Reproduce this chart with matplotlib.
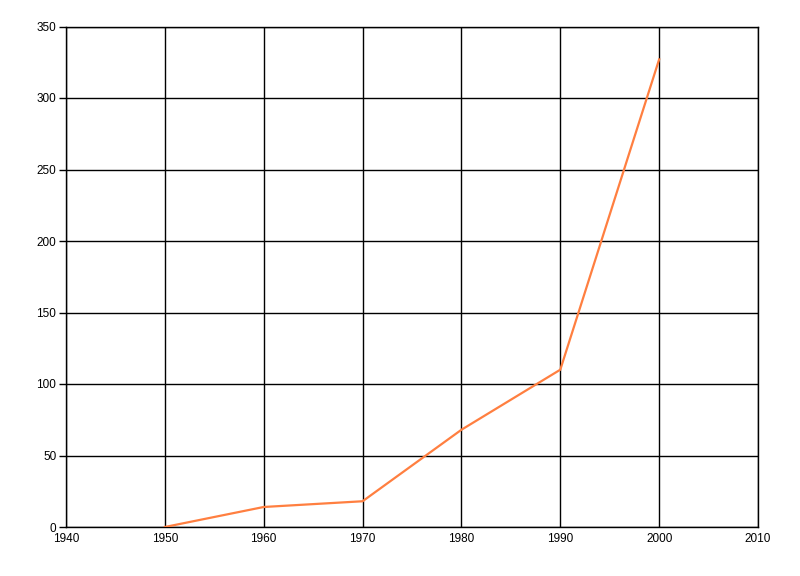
import matplotlib
matplotlib.use('Agg')
import matplotlib.pyplot as plt

years = [1950, 1960, 1970, 1980, 1990, 2000]
values = [0, 14, 18, 68, 110, 327]

x_ticks = list(range(1940, 2011, 10))
y_ticks = list(range(0, 351, 50))

plt.rcParams['font.family'] = ['Liberation Sans', 'DejaVu Sans']

fig = plt.figure(figsize=(8, 5.76), dpi=100)
ax = fig.add_axes([66 / 800, 49 / 576, 692 / 800, 500.5 / 576])

ax.plot(years, values, color='#FF7F40', linewidth=1.6, zorder=3)

ax.set_xlim(1940, 2010)
ax.set_ylim(0, 350)
ax.set_xticks(x_ticks)
ax.set_yticks(y_ticks)
ax.grid(True, color='black', linewidth=1.0)
for side in ax.spines.values():
    side.set_linewidth(1.0)
ax.tick_params(axis='y', length=5, width=1.0, labelsize=8.5, pad=2)
ax.tick_params(axis='x', length=0, labelsize=8.5, pad=4)

fig.savefig('out.png', dpi=100)
